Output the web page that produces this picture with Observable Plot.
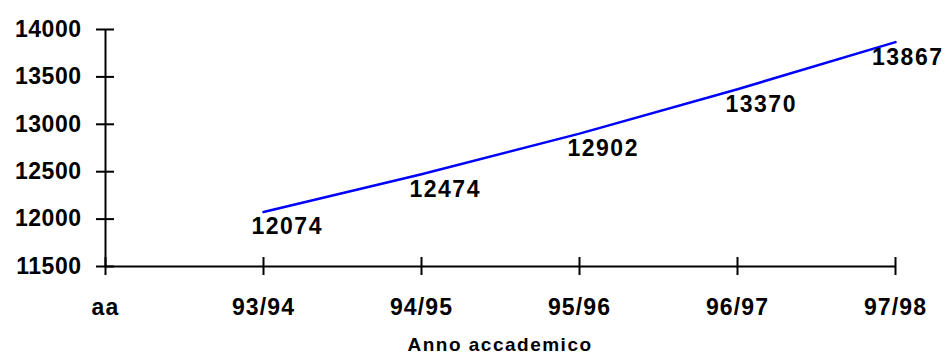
<!DOCTYPE html>
<html>
<head>
<meta charset="utf-8">
<script src="https://cdn.jsdelivr.net/npm/d3@7"></script>
<script src="https://cdn.jsdelivr.net/npm/@observablehq/plot@0.6"></script>
<style>
  html, body { margin: 0; padding: 0; background: #fff; }
  svg { display: block; }
  g[aria-label="y-axis tick label"] text { letter-spacing: 0.5px; }
  g[aria-label="x-axis tick label"] text { letter-spacing: 1.1px; }
  g[aria-label="text"] text { letter-spacing: 1.5px; }
</style>
</head>
<body>
<div id="chart"></div>
<script>
const categories = ["aa", "93/94", "94/95", "95/96", "96/97", "97/98"];
const years = ["93/94", "94/95", "95/96", "96/97", "97/98"];
const values = [12074, 12474, 12902, 13370, 13867];
const yTicks = [11500, 12000, 12500, 13000, 13500, 14000];
const xTitle = "Anno accademico";

const data = years.map((year, i) => ({year, value: values[i]}));
const font = "'Liberation Sans', Arial, sans-serif";

const chart = Plot.plot({
  width: 947,
  height: 353,
  marginLeft: 103,
  marginRight: 51,
  marginTop: 29,
  marginBottom: 87,
  style: {fontFamily: font, background: "#fff", color: "#000"},
  x: {type: "point", domain: categories, padding: 0},
  y: {domain: [11500, 14000]},
  marks: [
    Plot.axisY(yTicks, {tickSize: 0, tickPadding: 22, tickFormat: d => String(d), fontSize: 23, fontWeight: "bold", label: null}),
    Plot.axisX(categories, {tickSize: 0, tickPadding: 32, fontSize: 23, fontWeight: "bold", label: null}),
    // axis lines
    Plot.ruleX(categories.slice(0, 1), {y1: 11500, y2: 14000, stroke: "#000", strokeWidth: 2}),
    Plot.ruleY(yTicks.slice(0, 1), {x1: () => categories[0], x2: () => categories[categories.length - 1], stroke: "#000", strokeWidth: 2}),
    // cross tick marks
    Plot.ruleY(yTicks, {x1: () => categories[0], x2: () => categories[0], insetLeft: -9, insetRight: -9, stroke: "#000", strokeWidth: 2}),
    Plot.ruleX(categories, {y1: () => yTicks[0], y2: () => yTicks[0], insetTop: -9, insetBottom: -9, stroke: "#000", strokeWidth: 2}),
    // series
    Plot.lineY(data, {x: "year", y: "value", stroke: "#0000ff", strokeWidth: 2.5}),
    Plot.text(data.slice(0, -1), {x: "year", y: "value", text: d => String(d.value), textAnchor: "start", dx: -12, dy: 15, fontSize: 23, fontWeight: "bold"}),
    Plot.text(data.slice(-1), {x: "year", y: "value", text: d => String(d.value), textAnchor: "end", dx: 48, dy: 16, fontSize: 23, fontWeight: "bold"}),
    // x title
    Plot.text([xTitle], {frameAnchor: "bottom", dy: 84, fontSize: 19, fontWeight: "bold", text: d => d})
  ]
});
document.getElementById("chart").appendChild(chart);
</script>
</body>
</html>
